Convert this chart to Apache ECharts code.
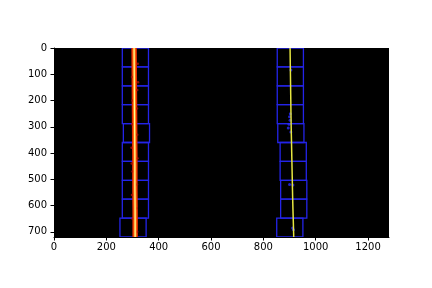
<!DOCTYPE html>
<html>
<head>
<meta charset="utf-8">
<script src="https://cdn.jsdelivr.net/npm/echarts@6/dist/echarts.min.js"></script>
<style>html,body{margin:0;padding:0;background:#fff;}#c{width:432px;height:288px;}</style>
</head>
<body>
<div id="c"></div>
<script>
// Axis ticks
var xTicks = [0, 200, 400, 600, 800, 1000, 1200];
var yTicks = [0, 100, 200, 300, 400, 500, 600, 700];

// Sliding windows (10 rows, 72 px tall, 100 px wide)
var winTop = [0, 72, 144, 216, 288, 360, 432, 504, 576, 648];
var winHeight = 72;
var winWidth = 100;
var leftWinLow = [261, 261, 261, 261, 265, 261, 261, 261, 261, 252];
var rightWinLow = [853, 853, 853, 853, 855, 864, 864, 866, 866, 851];

// Fitted lane lines
var fitY = [0, 72, 144, 216, 288, 360, 432, 504, 576, 648, 720];
var leftFitX = [306, 306.5, 307, 307.5, 308, 308.5, 309, 309, 309.5, 310, 310];
var rightFitX = [902, 903, 904, 905, 906, 907.5, 909, 910.5, 912, 914, 916];

// Lane pixels (left: red, right: blue)
var leftDotX = [320, 298, 318, 300, 317, 299, 318, 296, 319, 300, 317, 298, 316, 300, 318, 321, 297];
var leftDotY = [60, 110, 160, 200, 230, 290, 330, 380, 420, 470, 520, 560, 610, 650, 700, 130, 440];
var rightPixX = [905, 903, 900, 902, 898, 895, 905, 900, 913, 912, 915];
var rightPixY = [84, 250, 262, 275, 290, 305, 320, 520, 522, 686, 692];

function zip(a, b) { return a.map(function (v, i) { return [v, b[i]]; }); }

var leftWins = winTop.map(function (t, i) { return [leftWinLow[i], t, leftWinLow[i] + winWidth, t + winHeight]; });
var rightWins = winTop.map(function (t, i) { return [rightWinLow[i], t, rightWinLow[i] + winWidth, t + winHeight]; });

function renderRect(params, api) {
  var p1 = api.coord([api.value(0), api.value(1)]);
  var p2 = api.coord([api.value(2), api.value(3)]);
  return {
    type: 'rect',
    shape: { x: Math.min(p1[0], p2[0]), y: Math.min(p1[1], p2[1]), width: Math.abs(p2[0] - p1[0]), height: Math.abs(p2[1] - p1[1]) },
    style: { fill: null, stroke: '#2424e8', lineWidth: 1.3 }
  };
}

var chart = echarts.init(document.getElementById('c'), null, { renderer: 'canvas' });
var font = { fontFamily: 'DejaVu Sans', fontSize: 10, color: '#000', formatter: function (v) { return String(v); } };
chart.setOption({
  animation: false,
  backgroundColor: '#fff',
  grid: { left: 54, right: 43, top: 48, bottom: 51, show: true, backgroundColor: '#000', borderWidth: 0 },
  xAxis: {
    type: 'value', min: 0, max: 1280,
    splitLine: { show: false },
    axisLine: { show: true, onZero: false, lineStyle: { color: '#000', width: 1 } },
    axisTick: { show: true, length: 3.5, customValues: xTicks, lineStyle: { color: '#000' } },
    axisLabel: Object.assign({ customValues: xTicks, margin: 5 }, font)
  },
  yAxis: {
    type: 'value', min: 0, max: 720, inverse: true,
    splitLine: { show: false },
    axisLine: { show: true, onZero: false, lineStyle: { color: '#000', width: 1 } },
    axisTick: { show: true, length: 3.5, customValues: yTicks, lineStyle: { color: '#000' } },
    axisLabel: Object.assign({ customValues: yTicks, margin: 7 }, font)
  },
  series: [
    { type: 'custom', renderItem: renderRect, data: leftWins, clip: true, z: 2 },
    { type: 'custom', renderItem: renderRect, data: rightWins, clip: true, z: 2 },
    { type: 'line', data: zip(leftFitX, fitY), showSymbol: false, smooth: true, lineStyle: { color: '#e82a00', width: 5.5 }, z: 3 },
    { type: 'scatter', data: zip(leftDotX, leftDotY), symbolSize: 2.5, itemStyle: { color: '#b01008' }, z: 4 },
    { type: 'line', data: zip(leftFitX, fitY), showSymbol: false, smooth: true, lineStyle: { color: '#ff7a10', width: 3 }, z: 5 },
    { type: 'scatter', data: zip(rightPixX, rightPixY), symbolSize: 3, itemStyle: { color: '#2a2aff' }, z: 4 },
    { type: 'line', data: zip(leftFitX, fitY), showSymbol: false, smooth: true, lineStyle: { color: '#ffff90', width: 1.2 }, z: 6 },
    { type: 'line', data: zip(rightFitX, fitY), showSymbol: false, smooth: true, lineStyle: { color: '#e6e640', width: 1.5 }, z: 6 }
  ]
});
</script>
</body>
</html>
